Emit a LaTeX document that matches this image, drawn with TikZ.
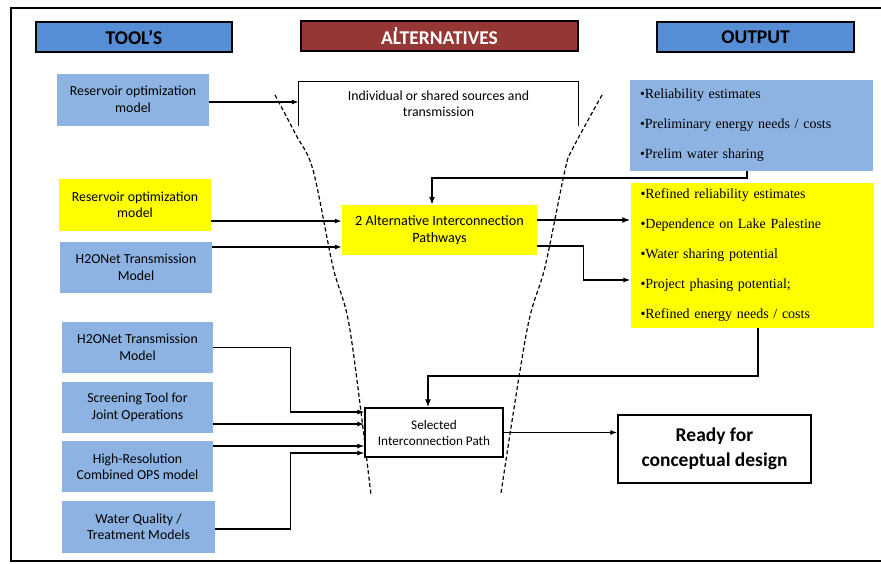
\documentclass[tikz,border=0pt]{standalone}
\usepackage{fontspec}
\setmainfont{Carlito}
\newfontfamily\outfont{Liberation Serif}
\usetikzlibrary{arrows.meta}
\definecolor{hdrblue}{HTML}{558ED5}
\definecolor{toolblue}{HTML}{8DB3E2}
\definecolor{hdrred}{HTML}{953735}
\definecolor{hiyellow}{HTML}{FFFF00}

\begin{document}
\begin{tikzpicture}[x=1pt,y=-1pt,
  every node/.style={inner sep=0pt, align=center},
  header/.style={draw=black, line width=1.4pt, font=\fontsize{19.5}{22}\selectfont\bfseries,
    minimum height=30pt},
  toolbox/.style={fill=toolblue, font=\fontsize{13.8}{16.5}\selectfont,
    minimum width=152pt, minimum height=52pt},
  ybox/.style={toolbox, fill=hiyellow},
  plainbox/.style={draw=black, line width=1.2pt, fill=white},
  outbox/.style={inner xsep=10pt, align=left, text width=223pt, minimum width=243pt,
    font=\outfont\fontsize{14}{30}\selectfont},
  arr/.style={line width=1.1pt, -{Latex[length=7pt,width=5pt]}},
  thickarr/.style={line width=2.2pt, -{Latex[length=8pt,width=6pt]}},
  guide/.style={line width=1.2pt, dash pattern=on 4pt off 2.5pt}
]
\useasboundingbox (0,0) rectangle (881,563);

% open frame
\draw[line width=2.5pt] (881,8) -- (11,8) -- (11,561) -- (881,561);

% column headers
\node[header, fill=hdrblue, minimum width=196pt] (hTools) at (134,37) {TOOL’S};
\node[header, fill=hdrred, text=white, minimum width=277pt] (hAlt) at (439.5,36)
  {A\rlap{\kern0.02em\raisebox{0.18em}{’}}LTERNATIVES};
\node[header, fill=hdrblue, minimum width=197pt] (hOut) at (755.5,37) {OUTPUT};

% funnel outline
\draw[guide] plot[smooth, tension=0.55] coordinates
  {(275,95) (296,135) (313,170) (333,267) (350,330) (371,495)};
\draw[guide] plot[smooth, tension=0.55] coordinates
  {(602,95) (573,148) (565,170) (545,267) (527,330) (501,493)};

% tools
\node[toolbox] (r1) at (133,99.5) {Reservoir optimization\\model};
\node[ybox] (r2) at (135,205) {Reservoir optimization\\model};
\node[toolbox, minimum height=51pt] (h1) at (136,267.5) {H2ONet Transmission\\Model};
\node[toolbox, minimum width=151pt, minimum height=51pt] (h2) at (137.5,347.5) {H2ONet Transmission\\Model};
\node[toolbox, minimum width=151pt, minimum height=51pt] (scr) at (137.5,407.5) {Screening Tool for\\Joint Operations};
\node[toolbox, minimum width=151pt, minimum height=51pt] (hr) at (137.5,466.5) {High-Resolution\\Combined OPS model};
\node[toolbox, minimum width=153pt] (wq) at (138.5,527) {Water Quality /\\Treatment Models};

% alternatives
\node[fill=white, minimum width=279pt, minimum height=44pt, font=\fontsize{13.8}{16.5}\selectfont]
  (ind) at (438.5,104) {Individual or shared sources and\\transmission};
\draw[line width=1.2pt] (ind.south west) -- (ind.north west) -- (ind.north east) -- (ind.south east);
\node[fill=hiyellow, minimum width=195pt, minimum height=50pt, font=\fontsize{14.2}{17}\selectfont]
  (alt2) at (439.5,230) {2 Alternative Interconnection\\Pathways};
\node[plainbox, minimum width=138pt, minimum height=49pt, font=\fontsize{13.2}{16}\selectfont]
  (sel) at (434,432.5) {Selected\\Interconnection Path};

% outputs
\node[outbox, fill=toolblue, minimum height=91pt] (outA) at (751.5,125.5)
  {•Reliability estimates\\•Preliminary energy needs / costs\\•Prelim water sharing};
\node[outbox, fill=hiyellow, minimum width=242pt, minimum height=145pt] (outB) at (752,255.5)
  {\rule{0pt}{3pt}•Refined reliability estimates\\•Dependence on Lake Palestine\\•Water sharing potential\\%
   •Project phasing potential;\\•Refined energy needs / costs};
\node[plainbox, line width=1.4pt, minimum width=193pt, minimum height=68pt,
  font=\fontsize{19.5}{25}\selectfont\bfseries] (ready) at (714.5,449) {Ready for\\conceptual design};

% connectors
\draw[arr] ([yshift=-2.5pt]r1.east) -- ([yshift=-2.5pt]r1.east -| ind.west);
\draw[arr, line width=1.5pt] ([yshift=-16pt]r2.east) -- ([yshift=-16pt]r2.east -| alt2.west);
\draw[arr] ([yshift=20.5pt]h1.east) -- ([yshift=20.5pt]h1.east -| alt2.west);
\draw[thickarr] ([yshift=10pt]alt2.east) -- ([yshift=10pt]alt2.east -| outB.west);
\draw[arr] ([yshift=-16pt]alt2.east) -- ++(46,0) |- ([yshift=-24.5pt]outB.west);
\draw[thickarr] ([xshift=-4.5pt]outA.south) -- ++(0,7) -| ([xshift=-7.5pt]alt2.north);
\draw[thickarr] ([xshift=6pt]outB.south) -- ++(0,48) -| ([xshift=-6pt]sel.north);

\draw[arr] (h2.east) -- ++(77,0) |- ([yshift=20.5pt]sel.west);
\draw[arr, line width=1.5pt] ([yshift=-16.5pt]scr.east) -- ([yshift=-16.5pt]scr.east -| sel.west);
\draw[arr] ([yshift=20.5pt]hr.east) -- ([yshift=20.5pt]hr.east -| sel.west);
\draw[arr] ([yshift=-2pt]wq.east) -- ++(75,0) |- ([yshift=-20.5pt]sel.west);
\draw[arr] (sel.east) -- (sel.east -| ready.west);
\end{tikzpicture}
\end{document}
